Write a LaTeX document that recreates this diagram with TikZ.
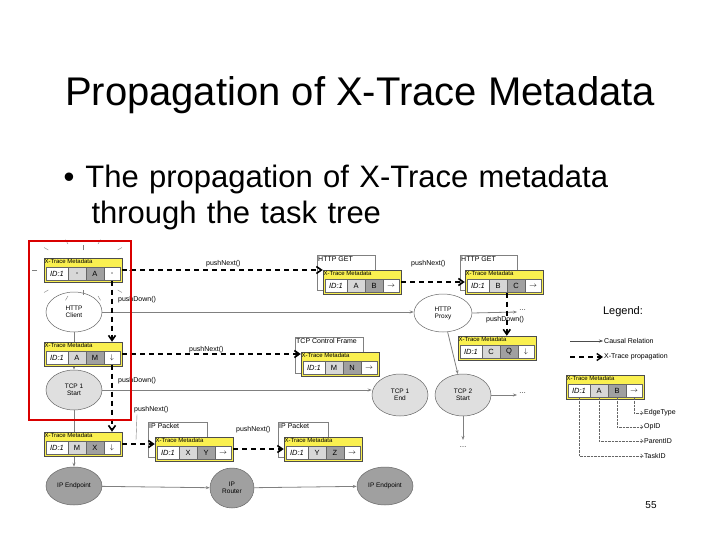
\documentclass[tikz,border=0pt]{standalone}
\usepackage{fontspec}
\setmainfont{Liberation Sans}
\usetikzlibrary{arrows.meta}
\definecolor{myyel}{RGB}{250,240,80}
\definecolor{lg}{RGB}{215,215,215}
\definecolor{dg}{RGB}{160,160,160}
\tikzset{
 metabox/.style={draw=black!70,fill=myyel,minimum width=78pt,minimum height=24pt,inner sep=0pt,line width=0.5pt},
 cell/.style={draw=black!60,minimum height=13pt,inner sep=0pt,font=\fontsize{7.5}{7.5}\selectfont,line width=0.4pt},
 frame/.style={draw=black!50,fill=white,inner sep=0pt,line width=0.5pt},
 ell/.style={ellipse,draw=black!60,line width=0.5pt,font=\fontsize{6.5}{7}\selectfont,align=center,inner sep=0pt},
 causal/.style={draw=black!50,line width=0.8pt,-{Stealth[length=4pt]}},
 prop/.style={draw=black,line width=1.6pt,dash pattern=on 5pt off 4pt,-{Straight Barb[length=5pt,width=7pt]}},
 lbl/.style={font=\fontsize{7}{7}\selectfont,inner sep=1pt},
 lead/.style={draw=black!60,densely dotted,line width=0.4pt,-{Straight Barb[length=2pt]}}
}
\usetikzlibrary{shapes.geometric}
\newcommand\meta[7]{%
 \node[metabox] (#1) at (#2+39,#3+12) {};
 \node[anchor=north west,inner sep=0.5pt,font=\fontsize{6}{6}\selectfont] at (#2,#3) {X-Trace Metadata};
 \node[cell,fill=white,minimum width=22pt] (#1i) at (#2+13,#3+16) {\textit{ID:1}};
 \node[cell,fill=lg,minimum width=18pt] (#1a) at (#2+33,#3+16) {#4};
 \node[cell,fill=dg,minimum width=18pt] (#1b) at (#2+51,#3+16) {#5};
 \node[cell,fill=white,minimum width=16pt] (#1c) at (#2+68,#3+16) {#6};
}
\begin{document}
\begin{tikzpicture}[x=1pt,y=-1pt]
\useasboundingbox[fill=white] (0,0) rectangle (720,540);
\node[font=\fontsize{40}{40}\selectfont] (title) at (360,95) {Propagation of X-Trace Metadata};
\node[anchor=north west,font=\fontsize{31}{36}\selectfont,align=left,text width=640pt] (bul) at (60,162) {\textbullet\hspace{11pt}The propagation of X-Trace metadata\\\hspace{28pt}through the task tree};

% ellipses
\node[ell,fill=white,minimum width=56pt,minimum height=40pt] (hc) at (74,312) {HTTP\\Client};
\node[ell,fill=lg!80,minimum width=56pt,minimum height=40pt] (t1s) at (74,390) {TCP 1\\Start};
\node[ell,fill=dg,minimum width=56pt,minimum height=38pt] (ipe1) at (74,486) {IP Endpoint};
\node[ell,fill=dg,minimum width=44pt,minimum height=40pt] (ipr) at (232,488) {IP\\Router};
\node[ell,fill=dg,minimum width=56pt,minimum height=38pt] (ipe2) at (385,486) {IP Endpoint};
\node[ell,fill=white,minimum width=58pt,minimum height=38pt] (hp) at (443,313) {HTTP\\Proxy};
\node[ell,fill=lg!80,minimum width=56pt,minimum height=42pt] (t1e) at (400,395) {TCP 1\\End};
\node[ell,fill=lg!80,minimum width=56pt,minimum height=42pt] (t2s) at (463,395) {TCP 2\\Start};
\coordinate (d1) at (517,312);
\coordinate (d2) at (517,395);
\coordinate (d3) at (463,440);
\node[lbl,anchor=west] (dt1) at (518,310) {\dots};
\node[lbl,anchor=west] (dt2) at (518,393) {\dots};
\node[lbl] (dt3) at (463,447) {\dots};

% causal
\draw[causal] (hc.east) -- (hc.east -| hp.west);
\draw[causal] (hp.east) -- (d1);
\draw[causal] (t1s.east) -- (t1s.east -| t1e.west);
\draw[causal] (t2s) -- (d2);
\draw[causal] (t2s) -- (d3);
\draw[causal] (ipe1) -- (ipr);
\draw[causal] (ipr) -- (ipe2);
\draw[causal] (hc) -- (t1s);
\draw[causal] (t1s) -- (ipe1);
\draw[causal] (hp) -- (t2s);

% frames
\node[frame,anchor=north west,minimum width=58pt,minimum height=35pt] (f6) at (317,255) {};
\node[lbl,anchor=north west] at (f6.north west) {HTTP GET};
\node[frame,anchor=north west,minimum width=57pt,minimum height=35pt] (f7) at (460,255) {};
\node[lbl,anchor=north west] at (f7.north west) {HTTP GET};
\node[frame,anchor=north west,minimum width=68pt,minimum height=36pt] (f9) at (295,337) {};
\node[lbl,anchor=north west] at (f9.north west) {TCP Control Frame};
\node[frame,anchor=north west,minimum width=59pt,minimum height=35pt] (f4) at (148,422) {};
\node[lbl,anchor=north west] at (f4.north west) {IP Packet};
\node[frame,anchor=north west,minimum width=50pt,minimum height=35pt] (f5) at (278,422) {};
\node[lbl,anchor=north west] at (f5.north west) {IP Packet};

% metadata
\meta{m1}{44}{258}{-}{A}{-}{}
\meta{m2}{44}{342}{A}{M}{$\downarrow$}{}
\meta{m3}{44}{432}{M}{X}{$\downarrow$}{}
\meta{m4}{155}{437}{X}{Y}{$\rightarrow$}{}
\meta{m5}{284}{437}{Y}{Z}{$\rightarrow$}{}
\meta{m6}{323}{270}{A}{B}{$\rightarrow$}{}
\meta{m7}{465}{270}{B}{C}{$\rightarrow$}{}
\meta{m8}{458}{336}{C}{Q}{$\downarrow$}{}
\meta{m9}{301}{352}{M}{N}{$\rightarrow$}{}
\meta{lm}{566}{375}{A}{B}{$\rightarrow$}{}

% rays around m1
\foreach \a/\r in {0/46,30/40,60/30,90/20,120/30,150/40,180/46,210/40,240/30,270/20,300/30,330/40}
  \draw[black!50,line width=0.4pt] (m1) ++(\a:\r) -- ++(\a:5);

% propagation
\draw[prop] (m1.east) -- (m1.east -| m6.west);
\draw[prop] (m6.east) -- (m6.east -| m7.west);
\draw[prop] (m2.east) -- (m2.east -| m9.west);
\draw[prop] (m3.east) -- (m3.east -| m4.west);
\draw[prop] (m4.east) -- (m4.east -| m5.west);
\draw[prop] (m1c.south) -- (m2c.north |- m2.north);
\draw[prop] (m2c.south) -- (m3c.north |- m3.north);
\draw[prop] (m7a.south -| m7b.west) -- (m8.north -| m7b.west);

\node[lbl,anchor=south west] (l1) at (205,268) {pushNext()};
\node[lbl,anchor=south west] (l2) at (410,268) {pushNext()};
\node[lbl,anchor=west] (l3) at (117,300) {pushDown()};
\node[lbl,anchor=south west] (l4) at (188,354) {pushNext()};
\node[lbl,anchor=west] (l5) at (117,381) {pushDown()};
\node[lbl,anchor=west] (l6) at (133,410) {pushNext()};
\node[lbl,anchor=south west] (l7) at (235,434) {pushNext()};
\node[lbl,anchor=west] (l8) at (485,320) {pushDown()};
\draw[black!50,line width=0.4pt] (l6.south west) ++(4,0) -- (136,440);

% red box
\draw[red!85!black,line width=2.5pt] (29,241) rectangle (131,420);

% legend
\node[font=\fontsize{11}{11}\selectfont] (lg) at (623,312) {Legend:};
\node[lbl,anchor=west,font=\fontsize{7}{7}\selectfont] (lc) at (603,341) {Causal Relation};
\node[lbl,anchor=west,font=\fontsize{7}{7}\selectfont] (lp) at (603,357) {X-Trace propagation};
\draw[causal,draw=black!70,line width=0.5pt] (570,341) -- (lc.west);
\draw[prop,line width=1.4pt] (570,357) -- (lp.west);
\node[lbl,anchor=west,font=\fontsize{7}{7}\selectfont] (e1) at (643,413) {EdgeType};
\node[lbl,anchor=west,font=\fontsize{7}{7}\selectfont] (e2) at (643,427) {OpID};
\node[lbl,anchor=west,font=\fontsize{7}{7}\selectfont] (e3) at (643,441) {ParentID};
\node[lbl,anchor=west,font=\fontsize{7}{7}\selectfont] (e4) at (643,456) {TaskID};
\draw[lead] (lmc.south) |- (e1.west);
\draw[lead] (lmb.south) |- (e2.west);
\draw[lead] (lma.south) |- (e3.west);
\draw[lead] (lmi.south) |- (e4.west);

\node[font=\fontsize{10}{10}\selectfont] (pg) at (651,505) {55};
\end{tikzpicture}
\end{document}
